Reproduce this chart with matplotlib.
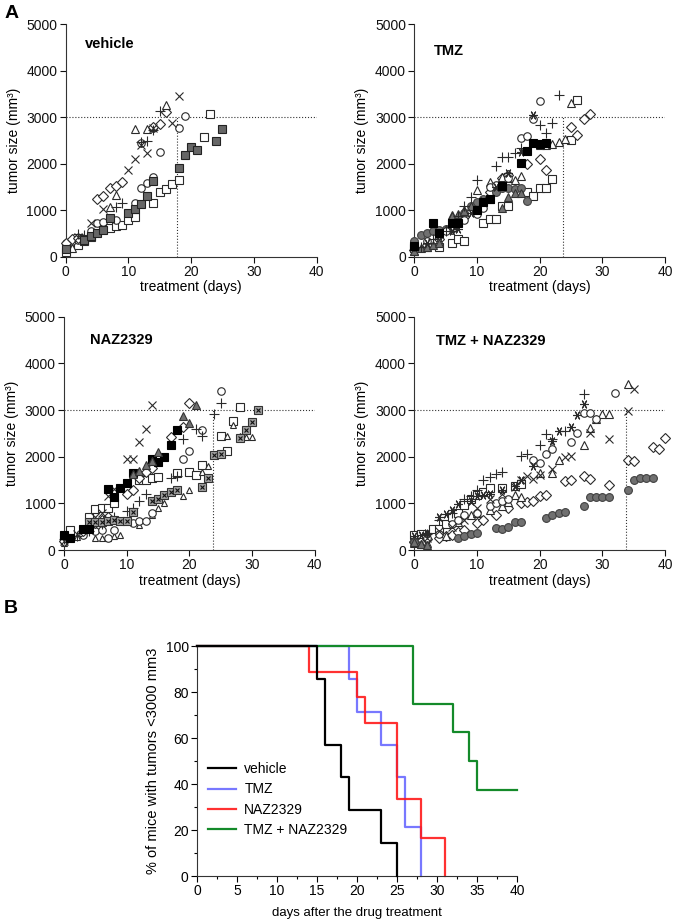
import matplotlib
matplotlib.use('Agg')
import matplotlib.pyplot as plt

plt.rcParams['font.family'] = ['Liberation Sans', 'DejaVu Sans']

# ---- panel A data (day, tumor size mm3) ----
# vehicle
veh_sqfill_d = [0, 3, 4, 5, 6, 7, 10, 11, 12, 13, 14, 18, 19, 20, 21, 24, 25]
veh_sqfill_v = [160, 360, 450, 510, 580, 830, 940, 1030, 1130, 1310, 1620, 1900, 2190, 2350, 2290, 2490, 2750]
veh_sq_d = [0, 2, 3, 4, 6, 7, 8, 9, 10, 11, 14, 15, 16, 17, 18, 22, 23]
veh_sq_v = [110, 250, 330, 420, 590, 620, 660, 690, 790, 860, 1160, 1400, 1450, 1560, 1650, 2580, 3080]
veh_circ_d = [0, 1, 2, 4, 5, 6, 8, 11, 12, 12, 13, 14, 14, 15, 18, 19]
veh_circ_v = [290, 340, 360, 560, 720, 740, 800, 1150, 1470, 2450, 1580, 1710, 2770, 2260, 2770, 3030]
veh_dia_d = [0, 1, 2, 5, 6, 7, 8, 9, 14, 15, 16]
veh_dia_v = [300, 370, 400, 1240, 1300, 1470, 1510, 1610, 2780, 2860, 3120]
veh_tri_d = [1, 7, 8, 11, 13, 16]
veh_tri_v = [180, 1060, 1320, 2750, 2750, 3260]
veh_x_d = [2, 4, 6, 10, 11, 12, 13, 14, 17, 18]
veh_x_v = [430, 720, 1030, 1860, 2100, 2400, 2220, 2760, 2880, 3460]
veh_plus_d = [2, 3, 8, 9, 12, 13, 14, 15]
veh_plus_v = [490, 460, 1060, 1160, 2470, 2490, 2720, 3130]

# TMZ
tmz_plus_d = [1, 3, 5, 7, 8, 9, 10, 13, 14, 15, 16, 17, 20, 21, 22, 23]
tmz_plus_v = [200, 380, 560, 880, 1100, 1280, 1650, 1950, 2150, 2150, 2240, 2330, 2830, 2670, 2880, 3480]
tmz_circ_d = [0, 2, 4, 5, 6, 8, 10, 11, 12, 13, 15, 17, 18, 19, 20]
tmz_circ_v = [200, 330, 470, 560, 650, 800, 920, 1050, 1500, 1550, 1700, 2550, 2600, 2960, 3360]
tmz_dia_d = [0, 2, 4, 6, 8, 10, 12, 14, 15, 18, 20, 21, 25, 26, 27, 28]
tmz_dia_v = [150, 250, 380, 600, 850, 1000, 1400, 1700, 1750, 2000, 2110, 1860, 2800, 2620, 2960, 3060]
tmz_tri_d = [0, 2, 4, 6, 8, 10, 12, 14, 15, 16, 17, 20, 21, 22, 23, 24, 25]
tmz_tri_v = [120, 200, 330, 900, 1000, 1430, 1600, 1720, 1700, 1650, 1740, 2400, 2400, 2420, 2470, 2530, 3300]
tmz_sq_d = [0, 4, 6, 7, 8, 11, 12, 13, 14, 15, 18, 19, 20, 21, 22, 25, 26]
tmz_sq_v = [180, 210, 300, 370, 340, 720, 820, 820, 1080, 1090, 1400, 1310, 1480, 1480, 1680, 2520, 3380]
tmz_blk_d = [0, 3, 4, 6, 7, 10, 11, 12, 14, 17, 18, 19, 20, 21]
tmz_blk_v = [230, 730, 500, 730, 730, 1000, 1180, 1250, 1510, 2020, 2270, 2440, 2420, 2450]
tmz_gcirc_d = [0, 1, 2, 3, 4, 5, 6, 7, 8, 9, 10, 11, 13, 14, 15, 16, 17, 18]
tmz_gcirc_v = [330, 460, 520, 550, 570, 600, 700, 800, 950, 1100, 1180, 1250, 1400, 1470, 1470, 1460, 1470, 1190]
tmz_gtri_d = [0, 1, 2, 3, 4, 5, 6, 7, 8, 9, 10, 12, 14, 15, 16, 17]
tmz_gtri_v = [130, 180, 200, 250, 300, 600, 880, 910, 980, 1080, 1000, 1250, 1040, 1290, 1380, 1360]
tmz_ast_d = [0, 2, 4, 6, 7, 9, 11, 13, 15, 17, 19]
tmz_ast_v = [200, 300, 450, 550, 600, 950, 1200, 1500, 1800, 2250, 3050]

# NAZ2329
naz_x_d = [0, 2, 4, 5, 6, 7, 8, 10, 11, 12, 13, 14]
naz_x_v = [200, 350, 600, 700, 800, 1150, 1300, 1960, 1960, 2320, 2600, 3100]
naz_blk_d = [0, 1, 3, 4, 7, 8, 9, 10, 11, 14, 15, 16, 17, 18]
naz_blk_v = [320, 250, 460, 440, 1300, 1130, 1320, 1430, 1640, 1960, 1890, 2000, 2250, 2570]
naz_gtri_d = [11, 12, 13, 14, 15, 19, 20, 21]
naz_gtri_v = [1620, 1700, 1830, 1900, 2100, 2870, 2730, 3110]
naz_dia_d = [0, 3, 5, 6, 7, 10, 11, 12, 13, 14, 17, 19, 20]
naz_dia_v = [200, 400, 570, 640, 710, 1210, 1290, 1540, 1680, 1750, 2430, 2640, 3140]
naz_circ_d = [0, 3, 5, 6, 7, 8, 11, 12, 13, 14, 19, 20, 22, 25]
naz_circ_v = [200, 320, 400, 430, 250, 430, 570, 620, 620, 800, 1940, 2130, 2570, 3400]
naz_plus_d = [0, 2, 4, 6, 8, 10, 11, 12, 13, 17, 18, 19, 21, 22, 24, 25]
naz_plus_v = [230, 300, 400, 550, 700, 830, 900, 1060, 1200, 1540, 1580, 2370, 2600, 2450, 2910, 3160]
naz_sq_d = [0, 1, 4, 5, 6, 7, 8, 12, 13, 14, 15, 18, 20, 21, 22, 25, 26, 27, 28]
naz_sq_v = [250, 430, 710, 870, 910, 890, 1000, 1500, 1490, 1540, 1570, 1640, 1680, 1610, 1820, 2450, 2130, 2770, 3070]
naz_hatch_d = [4, 5, 6, 7, 8, 9, 10, 11, 14, 15, 16, 17, 18, 22, 23, 24, 25, 28, 29, 30, 31]
naz_hatch_v = [600, 600, 610, 620, 640, 630, 630, 820, 1040, 1090, 1180, 1250, 1290, 1340, 1540, 2040, 2060, 2400, 2570, 2750, 3010]
naz_tri_d = [0, 2, 5, 6, 7, 8, 9, 12, 14, 15, 16, 19, 20, 22, 23, 26, 27, 28, 29, 30]
naz_tri_v = [150, 270, 250, 250, 250, 300, 320, 540, 750, 910, 1000, 1160, 1290, 1680, 1800, 2450, 2680, 2440, 2430, 2430]

# TMZ + NAZ2329
cmb_gcirc_d = [0, 7, 8, 9, 10, 13, 14, 15, 16, 17, 21, 22, 23, 24, 27, 28, 29, 30, 31, 34, 35, 36, 37, 38]
cmb_gcirc_v = [170, 250, 300, 340, 360, 480, 440, 500, 610, 590, 680, 750, 790, 810, 950, 1140, 1130, 1140, 1140, 1290, 1500, 1540, 1540, 1540]
cmb_dia_d = [0, 2, 4, 5, 6, 7, 8, 10, 11, 13, 15, 17, 18, 19, 20, 21, 24, 25, 27, 28, 31, 34, 35, 38, 39, 40]
cmb_dia_v = [170, 230, 260, 300, 320, 380, 430, 570, 650, 750, 900, 1000, 1020, 1040, 1160, 1180, 1480, 1510, 1590, 1520, 1390, 1930, 1910, 2200, 2160, 2410]
cmb_tri_d = [0, 1, 2, 5, 7, 9, 10, 12, 14, 15, 16, 17, 20, 22, 23, 27, 28, 29, 30, 31, 34]
cmb_tri_v = [150, 120, 140, 300, 600, 750, 800, 850, 950, 1030, 1170, 1140, 1660, 1650, 1930, 2250, 2620, 2800, 2910, 2910, 3560]
cmb_x_d = [0, 2, 4, 6, 8, 10, 12, 14, 16, 17, 18, 19, 20, 22, 24, 25, 28, 31, 34, 35]
cmb_x_v = [200, 250, 400, 500, 650, 900, 1100, 1200, 1350, 1500, 1580, 1520, 1600, 1740, 1990, 2010, 2500, 2370, 2970, 3460]
cmb_ast_d = [0, 1, 2, 4, 5, 6, 7, 9, 10, 11, 12, 14, 16, 17, 19, 22, 23, 25, 26, 27]
cmb_ast_v = [300, 330, 370, 700, 780, 850, 980, 1050, 1150, 1180, 1200, 1290, 1380, 1490, 1800, 2340, 2550, 2640, 2890, 3130]
cmb_plus_d = [0, 2, 4, 6, 8, 9, 10, 11, 12, 13, 14, 17, 18, 20, 21, 22, 24, 27]
cmb_plus_v = [200, 350, 650, 800, 1100, 1150, 1280, 1510, 1560, 1630, 1680, 2010, 2060, 2250, 2490, 2380, 2560, 3340]
cmb_circ_d = [0, 2, 4, 6, 7, 8, 10, 12, 13, 14, 15, 19, 20, 21, 22, 25, 26, 27, 28, 29, 32]
cmb_circ_v = [200, 250, 350, 550, 650, 750, 800, 950, 1000, 1050, 1090, 1930, 1860, 2060, 2160, 2310, 2500, 2940, 2940, 2800, 3370]
cmb_sq_d = [0, 1, 3, 4, 5, 6, 7, 8, 9, 10, 11, 12, 14, 16, 17]
cmb_sq_v = [320, 340, 440, 450, 550, 700, 800, 960, 1100, 1180, 1250, 1320, 1320, 1370, 1410]
cmb_gtri_d = [0, 1, 2]
cmb_gtri_v = [180, 120, 100]

# day each group reaches 3000 mm3 (dotted guide)
cutoff_days = [17.8, 23.7, 23.7, 33.7]
group_names = ['vehicle', 'TMZ', 'NAZ2329', 'TMZ + NAZ2329']

# ---- panel B data (% of mice with tumors < 3000 mm3) ----
veh_t = [0, 15, 16, 18, 19, 23, 25]
veh_s = [100, 85.7, 57.1, 42.9, 28.6, 14.3, 0]
tmz_t = [0, 19, 20, 23, 25, 26, 28]
tmz_s = [100, 85.7, 71.4, 57.1, 42.9, 21.4, 0]
naz_t = [0, 14, 20, 21, 25, 28, 31]
naz_s = [100, 88.9, 77.8, 66.7, 33.3, 16.7, 0]
cmb_t = [0, 27, 32, 34, 35, 40]
cmb_s = [100, 75, 62.5, 50, 37.5, 37.5]

EDGE = '#2a2a2a'
STY = {
    'o': dict(marker='o', mfc='white', mec=EDGE, ms=5.4),
    's': dict(marker='s', mfc='white', mec=EDGE, ms=5.4),
    'D': dict(marker='D', mfc='white', mec=EDGE, ms=4.8),
    '^': dict(marker='^', mfc='white', mec=EDGE, ms=6.2),
    'small^': dict(marker='^', mfc='white', mec=EDGE, ms=4.5),
    'x': dict(marker='x', mec=EDGE, ms=5.8),
    '+': dict(marker='+', mec=EDGE, ms=6.8),
    'ast': dict(marker=(6, 2, 90), mec=EDGE, ms=6.3),
    'sqgrey': dict(marker='s', mfc='#666666', mec='#222222', ms=5.4),
    'sqblack': dict(marker='s', mfc='black', mec='black', ms=5.6),
    'cgrey': dict(marker='o', mfc='#707070', mec='#404040', ms=5.6),
    'tgrey': dict(marker='^', mfc='#707070', mec='#333333', ms=6.2),
}


def pts(ax, d, v, kind):
    if kind == 'hatch':
        ax.plot(d, v, ls='none', marker='s', mfc='#a0a0a0', mec='#333333', ms=5.2,
                mew=0.8, clip_on=False, zorder=3)
        ax.plot(d, v, ls='none', marker='x', mec='#111111', ms=3.4, mew=0.8,
                clip_on=False, zorder=3)
        return
    ax.plot(d, v, ls='none', mew=0.8, clip_on=False, zorder=3, **STY[kind])


def setup_growth(ax, title, tpos, cutoff):
    ax.set_xlim(0, 40)
    ax.set_ylim(0, 5000)
    ax.set_xticks(range(0, 41, 10))
    ax.set_yticks(range(0, 5001, 1000))
    for s in ['top', 'right']:
        ax.spines[s].set_visible(False)
    for s in ['left', 'bottom']:
        ax.spines[s].set_linewidth(0.8)
        ax.spines[s].set_color('#333333')
    ax.tick_params(direction='out', length=4, width=0.8, labelsize=10, pad=2, colors='#111111')
    ax.axhline(3000, ls=':', lw=0.8, color='#333333', zorder=1)
    ax.plot([cutoff, cutoff], [0, 3000], ls=':', lw=0.8, color='#333333', zorder=1)
    ax.text(tpos[0], tpos[1], title, fontsize=10.5, fontweight='bold', va='center')
    ax.set_xlabel('treatment (days)', fontsize=10, labelpad=1)
    ax.set_ylabel('tumor size (mm³)', fontsize=10, labelpad=4)


fig = plt.figure(figsize=(6.75, 9.23), dpi=100)

ax1 = fig.add_axes([0.0973, 0.7219, 0.3716, 0.2518])
ax2 = fig.add_axes([0.6138, 0.7219, 0.3716, 0.2518])
ax3 = fig.add_axes([0.0948, 0.4041, 0.3716, 0.2528])
ax4 = fig.add_axes([0.6138, 0.4041, 0.3716, 0.2528])
axB = fig.add_axes([0.2919, 0.0509, 0.4741, 0.2492])

title_pos = [(3.1, 4580), (3.1, 4420), (4.1, 4500), (3.5, 4480)]
for ax, name, tp, cd in zip([ax1, ax2, ax3, ax4], group_names, title_pos, cutoff_days):
    setup_growth(ax, name, tp, cd)

# vehicle
pts(ax1, veh_sq_d, veh_sq_v, 's')
pts(ax1, veh_circ_d, veh_circ_v, 'o')
pts(ax1, veh_dia_d, veh_dia_v, 'D')
pts(ax1, veh_tri_d, veh_tri_v, '^')
pts(ax1, veh_x_d, veh_x_v, 'x')
pts(ax1, veh_plus_d, veh_plus_v, '+')
pts(ax1, veh_sqfill_d, veh_sqfill_v, 'sqgrey')

# TMZ
pts(ax2, tmz_sq_d, tmz_sq_v, 's')
pts(ax2, tmz_dia_d, tmz_dia_v, 'D')
pts(ax2, tmz_tri_d, tmz_tri_v, '^')
pts(ax2, tmz_gcirc_d, tmz_gcirc_v, 'cgrey')
pts(ax2, tmz_gtri_d, tmz_gtri_v, 'tgrey')
pts(ax2, tmz_circ_d, tmz_circ_v, 'o')
pts(ax2, tmz_plus_d, tmz_plus_v, '+')
pts(ax2, tmz_ast_d, tmz_ast_v, 'ast')
pts(ax2, tmz_blk_d, tmz_blk_v, 'sqblack')

# NAZ2329
pts(ax3, naz_sq_d, naz_sq_v, 's')
pts(ax3, naz_tri_d, naz_tri_v, 'small^')
pts(ax3, naz_circ_d, naz_circ_v, 'o')
pts(ax3, naz_dia_d, naz_dia_v, 'D')
pts(ax3, naz_plus_d, naz_plus_v, '+')
pts(ax3, naz_x_d, naz_x_v, 'x')
pts(ax3, naz_hatch_d, naz_hatch_v, 'hatch')
pts(ax3, naz_blk_d, naz_blk_v, 'sqblack')
pts(ax3, naz_gtri_d, naz_gtri_v, 'tgrey')

# TMZ + NAZ2329
pts(ax4, cmb_sq_d, cmb_sq_v, 's')
pts(ax4, cmb_dia_d, cmb_dia_v, 'D')
pts(ax4, cmb_tri_d, cmb_tri_v, '^')
pts(ax4, cmb_circ_d, cmb_circ_v, 'o')
pts(ax4, cmb_x_d, cmb_x_v, 'x')
pts(ax4, cmb_plus_d, cmb_plus_v, '+')
pts(ax4, cmb_ast_d, cmb_ast_v, 'ast')
pts(ax4, cmb_gcirc_d, cmb_gcirc_v, 'cgrey')
pts(ax4, cmb_gtri_d, cmb_gtri_v, 'tgrey')

# ---- panel B ----
axB.step(veh_t, veh_s, where='post', color='black', lw=1.6, label='vehicle', clip_on=False, zorder=3)
axB.step(tmz_t, tmz_s, where='post', color='#7878ff', lw=1.6, label='TMZ', clip_on=False, zorder=2)
axB.step(naz_t, naz_s, where='post', color='#ff1a1a', lw=1.6, alpha=0.9, label='NAZ2329', clip_on=False, zorder=2.5)
axB.step(cmb_t, cmb_s, where='post', color='#148a2a', lw=1.6, label='TMZ + NAZ2329', clip_on=False, zorder=2)
axB.set_xlim(0, 40)
axB.set_ylim(0, 100)
axB.set_xticks(range(0, 41, 5))
axB.set_xticks([x + 2.5 for x in range(0, 40, 5)], minor=True)
axB.set_yticks(range(0, 101, 20))
axB.set_yticks(range(10, 100, 20), minor=True)
for s in ['top', 'right']:
    axB.spines[s].set_visible(False)
for s in ['left', 'bottom']:
    axB.spines[s].set_linewidth(0.8)
    axB.spines[s].set_color('#333333')
axB.tick_params(which='major', direction='out', length=4, width=0.8, labelsize=10, pad=2)
axB.tick_params(which='minor', direction='out', length=2.5, width=0.8)
axB.set_xlabel('days after the drug treatment', fontsize=9.5, labelpad=6)
axB.set_ylabel('% of mice with tumors <3000 mm3', fontsize=10.5, labelpad=4)
axB.legend(loc='upper left', bbox_to_anchor=(0.035, 0.495), frameon=False, fontsize=10,
           handlelength=2.0, handletextpad=0.6, labelspacing=0.45, borderpad=0, borderaxespad=0)

fig.text(0.006, 0.995, 'A', fontsize=14, fontweight='bold', va='top')
fig.text(0.006, 0.350, 'B', fontsize=14, fontweight='bold', va='top')

fig.savefig('out.png', dpi=100, facecolor='white')
